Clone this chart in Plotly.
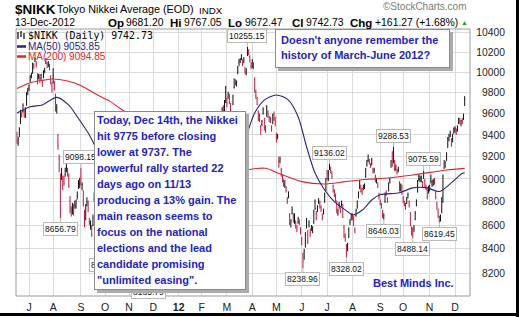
import numpy as np
import pandas as pd
import plotly.graph_objects as go

# ---------------- data (read / estimated from the chart) ----------------
holidays = ["2011-07-18", "2011-09-19", "2011-09-23", "2011-10-10", "2011-11-03", "2011-11-23",
            "2011-12-23", "2012-01-02", "2012-01-03", "2012-01-09", "2012-03-20", "2012-04-30",
            "2012-05-03", "2012-05-04", "2012-07-16", "2012-09-17", "2012-10-08", "2012-11-23"]

opens = [
    9412, 9326, 9390, 9508, 9590, 9622, 9620, 9581, 9685, 9818,
    9835, 9920, 9960, 9990, 10060, 10110, 10080, 9980, 9945, 9950, 9940, 9900, 9950, 10025, 10090, 10090, 10070, 10060, 9960, 9870,
    9900, 9900, 9770, 9640, 9390, 9180, 9010, 9030, 8940, 9010, 9040, 9110, 9070, 9020, 8810, 8740, 8720, 8750, 8770, 8760, 8850, 8930, 8960,
    9020, 8920, 8890, 8710, 8650, 8800, 8780, 8620, 8580, 8580, 8600, 8820, 8760, 8720, 8640, 8480, 8450, 8640, 8640, 8730,
    8610, 8500, 8400, 8470, 8600, 8720, 8740, 8800, 8760, 8850, 8780, 8760, 8700, 8690, 8760, 8790, 8720, 8850, 9040, 8880,
    8890, 8700, 8750, 8790, 8700, 8720, 8560, 8520, 8590, 8570, 8510, 8460, 8400, 8360, 8310, 8230, 8170, 8250, 8380, 8450,
    8600, 8620, 8650, 8620, 8620, 8690, 8560, 8620, 8590, 8540, 8430, 8390, 8340, 8320, 8440, 8400, 8450, 8470, 8420, 8400, 8420,
    8530, 8520, 8420, 8390, 8450, 8410, 8460, 8410, 8420, 8500, 8600, 8700, 8760, 8760, 8850, 8870, 8860, 8810, 8780,
    8780, 8860, 8850, 8920, 8910, 8960, 9000, 8990, 8980, 9020, 9170, 9230, 9310, 9450, 9470, 9510, 9570, 9600, 9660, 9640, 9760,
    9700, 9760, 9760, 9680, 9560, 9690, 9850, 9900, 9890, 10000, 10090, 10100, 10150, 10100, 10110, 10020, 10000, 10180, 10220, 10150, 10060,
    10060, 10080, 9930, 9800, 9740, 9610, 9560, 9470, 9500, 9600, 9550, 9470, 9580, 9620, 9560, 9550, 9470, 9520, 9580, 9540,
    9380, 9390, 9160, 9160, 9080, 9010, 8970, 8950, 8920, 8820, 8850, 8680, 8620, 8700, 8680, 8650, 8620, 8580, 8620, 8620, 8560,
    8480, 8350, 8330, 8420, 8580, 8520, 8600, 8540, 8580, 8550, 8620, 8800, 8700, 8730, 8800, 8760, 8750, 8680, 8700, 8800, 8900,
    9050, 9000, 9110, 9080, 9050, 8940, 8880, 8820, 8800, 8700, 8780, 8730, 8780, 8760, 8580, 8500, 8420, 8400, 8500, 8620, 8660,
    8680, 8650, 8550, 8680, 8760, 8850, 8930, 8920, 8890, 8920, 8930, 9020, 9130, 9170, 9170, 9110, 9140, 9080, 9080, 9020, 8990, 8950, 8860,
    8800, 8760, 8720, 8660, 8800, 8880, 8820, 8900, 8980, 9120, 9210, 9150, 9150, 9090, 9060, 9080, 8960, 8910, 8930,
    8830, 8780, 8780, 8790, 8840, 8800, 8700, 8570, 8560, 8560, 8650, 8770, 8890, 9000, 8990, 8990, 8950, 9020, 8980, 8920, 8900, 8890,
    8910, 8990, 8950, 8950, 8990, 8870, 8780, 8720, 8640, 8650, 8720, 8850, 9100, 9120, 9180, 9300, 9370, 9400, 9350, 9350, 9430,
    9460, 9440, 9450, 9520, 9550, 9500, 9530, 9560, 9681.20,
]
highs = [
    9429, 9383, 9471, 9636, 9620, 9698, 9640, 9661, 9806, 9848,
    9880, 9970, 9995, 10095, 10090, 10150, 10110, 9990, 9985, 9980, 9985, 9920, 10020, 10045, 10140, 10100, 10110, 10085, 9970, 9900,
    10040, 9915, 9790, 9690, 9410, 9220, 9050, 9100, 9030, 9030, 9100, 9140, 9100, 9050, 8850, 8760, 8790, 8780, 8810, 8820, 8890, 8990, 9010,
    9098.15, 8970, 8900, 8730, 8780, 8840, 8810, 8660, 8640, 8600, 8690, 8880, 8780, 8760, 8660, 8490, 8620, 8670, 8710, 8760,
    8640, 8520, 8440, 8540, 8630, 8790, 8770, 8840, 8790, 8890, 8790, 8800, 8730, 8710, 8850, 8810, 8770, 9060, 9080, 9150,
    8900, 8710, 8830, 8800, 8730, 8790, 8580, 8560, 8620, 8580, 8530, 8520, 8430, 8380, 8350, 8250, 8200, 8300, 8480, 8470,
    8650, 8680, 8720, 8630, 8730, 8710, 8590, 8660, 8600, 8560, 8450, 8420, 8360, 8350, 8470, 8420, 8490, 8480, 8450, 8420, 8460,
    8580, 8530, 8440, 8440, 8470, 8420, 8510, 8420, 8480, 8560, 8650, 8770, 8790, 8800, 8900, 8880, 8870, 8820, 8820,
    8830, 8890, 8870, 8950, 8940, 9030, 9030, 9010, 9020, 9070, 9270, 9250, 9400, 9500, 9500, 9570, 9600, 9660, 9680, 9730, 9866,
    9750, 9810, 9790, 9700, 9600, 9780, 9940, 9930, 9920, 10060, 10130, 10140, 10180, 10130, 10150, 10050, 10040, 10255.15, 10230, 10170, 10100,
    10130, 10100, 9950, 9830, 9760, 9630, 9600, 9490, 9540, 9660, 9560, 9490, 9680, 9630, 9580, 9570, 9490, 9600, 9620, 9570,
    9420, 9410, 9200, 9200, 9100, 9040, 9000, 8990, 8940, 8840, 8890, 8700, 8650, 8760, 8700, 8700, 8640, 8600, 8670, 8650, 8580,
    8500, 8370, 8400, 8540, 8660, 8560, 8640, 8570, 8600, 8590, 8730, 8820, 8720, 8770, 8830, 8810, 8770, 8700, 8740, 8880, 9010,
    9080, 9080, 9136.02, 9110, 9070, 8950, 8910, 8870, 8810, 8740, 8800, 8750, 8810, 8780, 8600, 8530, 8440, 8450, 8580, 8650, 8700,
    8700, 8680, 8580, 8740, 8810, 8890, 8990, 8950, 8920, 8950, 8960, 9100, 9170, 9220, 9180, 9140, 9190, 9100, 9100, 9040, 9010, 8970, 8880,
    8820, 8790, 8730, 8700, 8880, 8900, 8840, 8970, 9010, 9170, 9250, 9288.53, 9170, 9130, 9090, 9110, 8980, 8960, 8950,
    8850, 8810, 8790, 8840, 8880, 8810, 8710, 8590, 8580, 8600, 8720, 8820, 8990, 9040, 9030, 9030, 8980, 9075.59, 9000, 8950, 8920, 8940,
    8950, 9040, 8990, 9000, 9010, 8890, 8800, 8740, 8680, 8690, 8840, 9040, 9170, 9160, 9240, 9380, 9410, 9440, 9370, 9410, 9470,
    9480, 9460, 9490, 9560, 9560, 9540, 9560, 9600, 9767.05,
]
lows = [
    9318, 9299, 9380, 9502, 9562, 9610, 9561, 9558, 9675, 9775,
    9818, 9905, 9940, 9985, 10030, 10100, 10045, 9880, 9930, 9895, 9925, 9855, 9940, 9990, 10080, 10040, 10050, 10020, 9880, 9800,
    9890, 9820, 9620, 9600, 9264, 9060, 8656.79, 8990, 8900, 8940, 9020, 9060, 9020, 8920, 8700, 8672, 8690, 8680, 8740, 8740, 8820, 8910, 8920,
    8940, 8900, 8760, 8580, 8640, 8760, 8710, 8600, 8560, 8500, 8590, 8800, 8700, 8700, 8540, 8370, 8440, 8590, 8630, 8690,
    8520, 8359.70, 8365, 8450, 8570, 8700, 8700, 8780, 8720, 8840, 8720, 8740, 8660, 8640, 8750, 8740, 8700, 8840, 8920, 8870,
    8800, 8620, 8740, 8740, 8640, 8710, 8480, 8490, 8570, 8520, 8450, 8430, 8350, 8320, 8290, 8150, 8135.79, 8230, 8370, 8400,
    8580, 8600, 8640, 8560, 8610, 8640, 8500, 8600, 8530, 8500, 8350, 8370, 8280, 8300, 8420, 8380, 8440, 8430, 8400, 8370, 8410,
    8520, 8470, 8360, 8370, 8420, 8350, 8440, 8360, 8410, 8490, 8590, 8690, 8730, 8740, 8830, 8820, 8800, 8770, 8760,
    8760, 8850, 8810, 8900, 8890, 8950, 8980, 8930, 8960, 9000, 9160, 9190, 9300, 9430, 9440, 9500, 9540, 9590, 9600, 9620, 9700,
    9660, 9740, 9690, 9620, 9540, 9680, 9840, 9870, 9860, 9980, 10060, 10090, 10120, 10060, 10090, 9980, 9970, 10160, 10170, 10100, 10030,
    10040, 10030, 9800, 9740, 9680, 9530, 9520, 9400, 9480, 9590, 9440, 9420, 9570, 9560, 9520, 9510, 9430, 9500, 9530, 9480,
    9330, 9360, 9100, 9140, 9020, 8970, 8930, 8920, 8880, 8780, 8830, 8600, 8580, 8690, 8620, 8610, 8570, 8540, 8610, 8600, 8520,
    8430, 8238.96, 8310, 8410, 8570, 8440, 8580, 8500, 8550, 8530, 8610, 8730, 8640, 8710, 8780, 8740, 8710, 8640, 8690, 8790, 8890,
    8990, 8980, 9080, 9050, 9000, 8880, 8840, 8800, 8700, 8680, 8740, 8700, 8760, 8660, 8490, 8460, 8328.02, 8380, 8490, 8600, 8640,
    8640, 8590, 8530, 8670, 8740, 8830, 8910, 8880, 8860, 8900, 8910, 9010, 9110, 9150, 9130, 9100, 9120, 9050, 9050, 8970, 8960, 8920, 8820,
    8770, 8740, 8660, 8646.03, 8790, 8850, 8790, 8890, 8960, 9100, 9110, 9140, 9070, 9070, 9040, 9060, 8890, 8890, 8860,
    8790, 8760, 8730, 8780, 8830, 8750, 8590, 8510, 8488.14, 8540, 8640, 8760, 8880, 8980, 8970, 8970, 8920, 9000, 8920, 8900, 8820, 8870,
    8890, 8960, 8930, 8940, 8950, 8820, 8730, 8660, 8619.45, 8630, 8700, 8790, 9090, 9100, 9160, 9280, 9340, 9380, 9290, 9330, 9410,
    9420, 9400, 9430, 9500, 9500, 9480, 9500, 9540, 9672.47,
]
closes = [
    9351, 9354, 9459, 9629, 9596, 9678, 9578, 9648, 9797, 9816,
    9868, 9965, 9972, 10082, 10071, 10137, 10069, 9925, 9963, 9936, 9974, 9889, 10005, 10010, 10132, 10050, 10097, 10047, 9901, 9833,
    9965, 9844, 9637, 9659, 9299, 9097, 8944, 9038, 8981, 8963, 9086, 9107, 9057, 8943, 8719, 8700, 8760, 8720, 8772, 8797, 8851, 8953, 8955,
    8950, 8950, 8784, 8590, 8763, 8793, 8737, 8616, 8616, 8518, 8668, 8864, 8721, 8741, 8560, 8374, 8609, 8615, 8701, 8700,
    8545, 8456, 8382, 8522, 8605, 8773, 8738, 8823, 8747, 8879, 8741, 8772, 8682, 8678, 8843, 8762, 8748, 9050, 8926, 8988,
    8835, 8640, 8801, 8767, 8655, 8755, 8500, 8514, 8603, 8541, 8463, 8479, 8374, 8348, 8314, 8165, 8160, 8287, 8477, 8434,
    8597, 8643, 8695, 8575, 8722, 8664, 8536, 8653, 8552, 8519, 8377, 8401, 8296, 8336, 8459, 8395, 8479, 8440, 8423, 8398, 8455,
    8560, 8488, 8390, 8422, 8447, 8385, 8500, 8378, 8466, 8550, 8639, 8766, 8765, 8785, 8883, 8849, 8841, 8793, 8802,
    8809, 8876, 8831, 8929, 8917, 9015, 9002, 8947, 8999, 9052, 9260, 9238, 9384, 9485, 9463, 9554, 9595, 9647, 9633, 9722, 9723,
    9707, 9777, 9698, 9637, 9576, 9768, 9929, 9889, 9899, 10050, 10123, 10129, 10141, 10086, 10127, 10011, 10018, 10240, 10182, 10114, 10083,
    10109, 10050, 9819, 9767, 9688, 9546, 9538, 9458, 9524, 9638, 9470, 9464, 9667, 9588, 9561, 9542, 9466, 9590, 9561, 9520,
    9350, 9380, 9119, 9181, 9045, 9009, 8953, 8973, 8900, 8801, 8876, 8611, 8633, 8729, 8639, 8680, 8593, 8563, 8657, 8633, 8542,
    8440, 8295, 8383, 8533, 8639, 8459, 8624, 8536, 8568, 8568, 8721, 8741, 8655, 8752, 8824, 8798, 8734, 8663, 8730, 8872, 9006,
    9003, 9066, 9104, 9079, 9020, 8896, 8857, 8851, 8720, 8724, 8755, 8726, 8795, 8669, 8508, 8488, 8365, 8443, 8566, 8635, 8695,
    8663, 8597, 8555, 8726, 8803, 8881, 8978, 8891, 8885, 8929, 8947, 9092, 9162, 9171, 9156, 9131, 9178, 9070, 9085, 8983, 8984, 8939, 8840,
    8783, 8775, 8679, 8680, 8871, 8869, 8807, 8959, 8995, 9159, 9123, 9232, 9086, 9110, 9069, 9091, 8906, 8949, 8870,
    8796, 8786, 8746, 8824, 8863, 8769, 8596, 8546, 8534, 8577, 8701, 8807, 8982, 9002, 9010, 9014, 8954, 9055, 8933, 8929, 8841, 8928,
    8928, 8971, 8975, 8975, 8972, 8837, 8757, 8676, 8661, 8664, 8830, 9024, 9153, 9142, 9222, 9366, 9388, 9423, 9308, 9400, 9446,
    9458, 9432, 9468, 9545, 9527, 9533, 9525, 9581.46, 9742.73,
]

ma50_dates = ["2011-06-17", "2011-07-04", "2011-07-19", "2011-08-04", "2011-08-18", "2011-08-29",
              "2011-09-12", "2011-09-20", "2011-10-03", "2011-10-17", "2011-11-01", "2011-11-15",
              "2011-12-01", "2011-12-15", "2012-01-04", "2012-01-20", "2012-02-01", "2012-02-15",
              "2012-03-01", "2012-03-15", "2012-03-26", "2012-04-04", "2012-04-16", "2012-05-01",
              "2012-05-17", "2012-05-29", "2012-06-07", "2012-06-18", "2012-06-28", "2012-07-10",
              "2012-07-26", "2012-08-01", "2012-08-13", "2012-08-23", "2012-09-03", "2012-09-26",
              "2012-10-12", "2012-10-30", "2012-11-13", "2012-11-29", "2012-12-11", "2012-12-13"]
ma50_values = [9605, 9665, 9682, 9755, 9680, 9570, 9400, 9290, 9080, 8900, 8790, 8720,
               8620, 8560, 8500, 8470, 8510, 8680, 8880, 9150, 9384, 9605, 9729, 9778,
               9729, 9570, 9291, 9053, 8903, 8800, 8714, 8686, 8726, 8815, 8860, 8878,
               8921, 8921, 8889, 8976, 9050, 9053.85]

ma200_dates = ["2011-06-17", "2011-07-04", "2011-07-19", "2011-08-01", "2011-08-16", "2011-08-31",
               "2011-09-14", "2011-09-28", "2011-10-07", "2011-10-20", "2011-11-10", "2011-12-01",
               "2011-12-20", "2012-01-16", "2012-02-10", "2012-03-01", "2012-03-15", "2012-03-27",
               "2012-04-17", "2012-05-02", "2012-06-01", "2012-06-28", "2012-07-24", "2012-08-20",
               "2012-09-07", "2012-10-12", "2012-11-21", "2012-12-13"]
ma200_values = [9840, 9897, 9920, 9933, 9917, 9875, 9810, 9758, 9719, 9653, 9540, 9420,
                9300, 9160, 9060, 9020, 9040, 9080, 9095, 9053, 8976, 8955, 8976, 8997,
                9006, 9035, 9080, 9094.85]

label_dates = ["2011-08-09", "2011-09-01", "2011-10-04", "2011-11-25", "2012-03-27", "2012-06-04",
               "2012-07-04", "2012-07-25", "2012-09-06", "2012-09-19", "2012-10-12", "2012-10-25",
               "2012-11-13"]
label_values = [8656.79, 9098.15, 8359.70, 8135.79, 10255.15, 8238.96, 9136.02, 8328.02,
                8646.03, 9288.53, 8488.14, 9075.59, 8619.45]
label_kinds = ["L", "H", "L", "L", "H", "L", "H", "L", "L", "H", "L", "H", "L"]

month_ticks = ["2011-07-01", "2011-08-01", "2011-09-01", "2011-10-03", "2011-11-01", "2011-12-01",
               "2012-01-04", "2012-02-01", "2012-03-01", "2012-04-02", "2012-05-01", "2012-06-01",
               "2012-07-02", "2012-08-01", "2012-09-03", "2012-10-01", "2012-11-01", "2012-12-03"]
month_labels = ["J", "A", "S", "O", "N", "D", "<b>12</b>", "F", "M", "A", "M", "J", "J", "A", "S", "O", "N", "D"]
price_ticks = [8200, 8400, 8600, 8800, 9000, 9200, 9400, 9600, 9800, 10000, 10200, 10400]

note_lines = ["Today, Dec 14th, the Nikkei", "hit 9775 before closing", "lower at 9737. The",
              "powerful rally started 22", "days ago on 11/13", "producing a 13% gain. The",
              "main reason seems to", "focus on the national", "elections and the lead",
              "candidate promising", "\"unlimited easing\"."]
question_lines = ["Doesn't anyone remember the", "history of March-June 2012?"]

# ---------------- geometry / style ----------------
W, H = 519, 317
ML, MT, MR = 16, 29, 10
PLOT_R, PLOT_B = 470, 296
PW = W - ML - MR
PH = PLOT_B - MT
FONT = "Liberation Sans, Arial, sans-serif"
BLUE_TXT = "#2323c8"
BAR_UP, BAR_DN = "#111111", "#c01838"
MA50_C, MA200_C = "#25258a", "#e0262a"
GRID = "#dadada"


def px(x):
    return (x - ML) / PW


def py(y):
    return (PLOT_B - y) / PH


dates = pd.bdate_range("2011-06-17", "2012-12-13")
dates = dates[~dates.isin(pd.to_datetime(holidays))]
assert len(dates) == len(opens) == len(highs) == len(lows) == len(closes), (
    len(dates), len(opens), len(highs), len(lows), len(closes))

o, h, l, c = map(np.array, (opens, highs, lows, closes))
prev = np.concatenate([[o[0]], c[:-1]])
up = c >= prev

fig = go.Figure()
for mask, col in ((up, BAR_UP), (~up, BAR_DN)):
    fig.add_trace(go.Ohlc(
        x=dates[mask], open=o[mask], high=h[mask], low=l[mask], close=c[mask],
        increasing=dict(line=dict(color=col, width=1)),
        decreasing=dict(line=dict(color=col, width=1)),
        tickwidth=0.3, hoverinfo="skip", showlegend=False))

fig.add_trace(go.Scatter(x=pd.to_datetime(ma200_dates), y=ma200_values, mode="lines",
                         line=dict(color=MA200_C, width=1.1, shape="spline", smoothing=0.8),
                         hoverinfo="skip", showlegend=False))
fig.add_trace(go.Scatter(x=pd.to_datetime(ma50_dates), y=ma50_values, mode="lines",
                         line=dict(color=MA50_C, width=1.1, shape="spline", smoothing=0.8),
                         hoverinfo="skip", showlegend=False))

ann = []
# price labels
for d, v, k in zip(label_dates, label_values, label_kinds):
    ann.append(dict(x=d, y=np.log10(v), xref="x", yref="y", text=f"{v:.2f}",
                    showarrow=True, arrowhead=0, arrowwidth=1, arrowcolor="#b8b8b8",
                    ax=0, ay=(-11 if k == "H" else 11),
                    font=dict(family=FONT, size=8.5, color="#111"),
                    bgcolor="white", bordercolor="#b8b8b8", borderwidth=1, borderpad=1))


def box(x0, y0, x1, y1, shadow=3):
    out = []
    out.append(dict(xref="paper", yref="paper", x=px(x0 + shadow), y=py(y0 + shadow),
                    xanchor="left", yanchor="top", text=" ", showarrow=False,
                    width=x1 - x0 - 2, height=y1 - y0 - 2, bgcolor="#ababab",
                    bordercolor="#ababab", borderwidth=1, borderpad=0))
    out.append(dict(xref="paper", yref="paper", x=px(x0), y=py(y0),
                    xanchor="left", yanchor="top", text=" ", showarrow=False,
                    width=x1 - x0 - 2, height=y1 - y0 - 2, bgcolor="white",
                    bordercolor="#8a8a8a", borderwidth=1, borderpad=0))
    return out


def txt(text, x, y, size=10.5, color="#000", xanchor="left", family=FONT):
    return dict(xref="paper", yref="paper", x=px(x), y=py(y), xanchor=xanchor, yanchor="middle",
                text=text, showarrow=False, borderpad=0, borderwidth=0,
                font=dict(family=family, size=size, color=color))


ann += box(94.3, 110.7, 246.7, 290)
for i, line in enumerate(note_lines):
    ann.append(txt(f"<b>{line}</b>", 97.3, 120 + 16 * i, 11, BLUE_TXT))
ann += box(275, 29.3, 450, 68.3)
for i, line in enumerate(question_lines):
    ann.append(txt(f"<b>{line}</b>", 280.7, 40 + 15 * i, 11, BLUE_TXT))
ann.append(txt("<b>Best Minds Inc.</b>", 413, 283.3, 11, BLUE_TXT, xanchor="center"))

# header
ann.append(txt("<b>$NIKK</b>", 15, 9.5, 13.5))
ann.append(txt("Tokyo Nikkei Average (EOD)", 57, 9.5, 10.8))
ann.append(txt("INDX", 199, 10, 9.8))
ann.append(txt("\u00a9StockCharts.com", 383, 6.5, 10, "#7a7a7a"))
ann.append(txt("13-Dec-2012", 15, 23, 10.4))
ann.append(txt("<b>Op</b>", 108, 23, 11.5))
ann.append(txt("9681.20", 126, 23, 10.4))
ann.append(txt("<b>Hi</b>", 170, 23, 11.5))
ann.append(txt("9767.05", 184, 23, 10.4))
ann.append(txt("<b>Lo</b>", 228, 23, 11.5))
ann.append(txt("9672.47", 245, 23, 10.4))
ann.append(txt("<b>Cl</b>", 292, 23, 11.5))
ann.append(txt("9742.73", 306, 23, 10.4))
ann.append(txt("<b>Chg</b>", 350, 23, 11.5))
ann.append(txt("+161.27 (+1.68%)", 375, 23, 10.4))
ann.append(txt("\u25b2", 461, 22.5, 7, "#2a9a2a"))
# legend
ann.append(txt("$NIKK (Daily) 9742.73", 28, 35, 9.9, "#000", family="DejaVu Sans Mono, monospace"))
ann.append(txt("MA(50) 9053.85", 28, 46, 10, MA50_C))
ann.append(txt("MA(200) 9094.85", 28, 56, 10, MA200_C))

shapes = [
    dict(type="rect", xref="paper", yref="paper", x0=px(ML), x1=px(PLOT_R), y0=0, y1=1,
         line=dict(color="#9a9a9a", width=1), layer="above"),
    dict(type="line", xref="paper", yref="paper", x0=px(17), x1=px(26), y0=py(46.5), y1=py(46.5),
         line=dict(color=MA50_C, width=2.5)),
    dict(type="line", xref="paper", yref="paper", x0=px(17), x1=px(26), y0=py(56.5), y1=py(56.5),
         line=dict(color=MA200_C, width=2.5)),
    dict(type="line", xref="paper", yref="paper", x0=px(0), x1=px(519), y0=py(314.5), y1=py(314.5),
         line=dict(color="#000", width=3)),
    dict(type="line", xref="paper", yref="paper", x0=px(517.5), x1=px(517.5), y0=py(0), y1=py(317),
         line=dict(color="#000", width=3)),
]
for xx, y0, y1 in ((18, 32, 39), (21, 31, 37), (24, 33, 39)):
    shapes.append(dict(type="line", xref="paper", yref="paper", x0=px(xx), x1=px(xx),
                       y0=py(y0), y1=py(y1), line=dict(color="#000", width=1.2)))

fig.update_layout(
    width=W, height=H,
    margin=dict(l=ML, r=MR, t=MT, b=H - PLOT_B, autoexpand=False),
    paper_bgcolor="white", plot_bgcolor="white", showlegend=False,
    font=dict(family=FONT, size=10, color="#222"),
    xaxis=dict(type="date", domain=[0, px(PLOT_R)],
               range=["2011-06-16 05:30", "2012-12-19 10:00"],
               rangebreaks=[dict(bounds=["sat", "mon"]), dict(values=holidays)],
               tickvals=month_ticks, ticktext=month_labels, ticks="",
               showgrid=True, gridcolor=GRID, gridwidth=1, zeroline=False, showline=False,
               tickfont=dict(family=FONT, size=10.5, color="#222"), ticklabelstandoff=3,
               rangeslider=dict(visible=False)),
    yaxis=dict(type="log", range=[3.904066, 4.018530], tickvals=price_ticks,
               ticktext=[str(v) for v in price_ticks], ticks="",
               anchor="free", position=px(505), side="left",
               showgrid=True, gridcolor=GRID, gridwidth=1, zeroline=False, showline=False,
               tickfont=dict(family=FONT, size=10.3, color="#222")),
    annotations=ann, shapes=shapes,
)

fig.write_html("out.html")
